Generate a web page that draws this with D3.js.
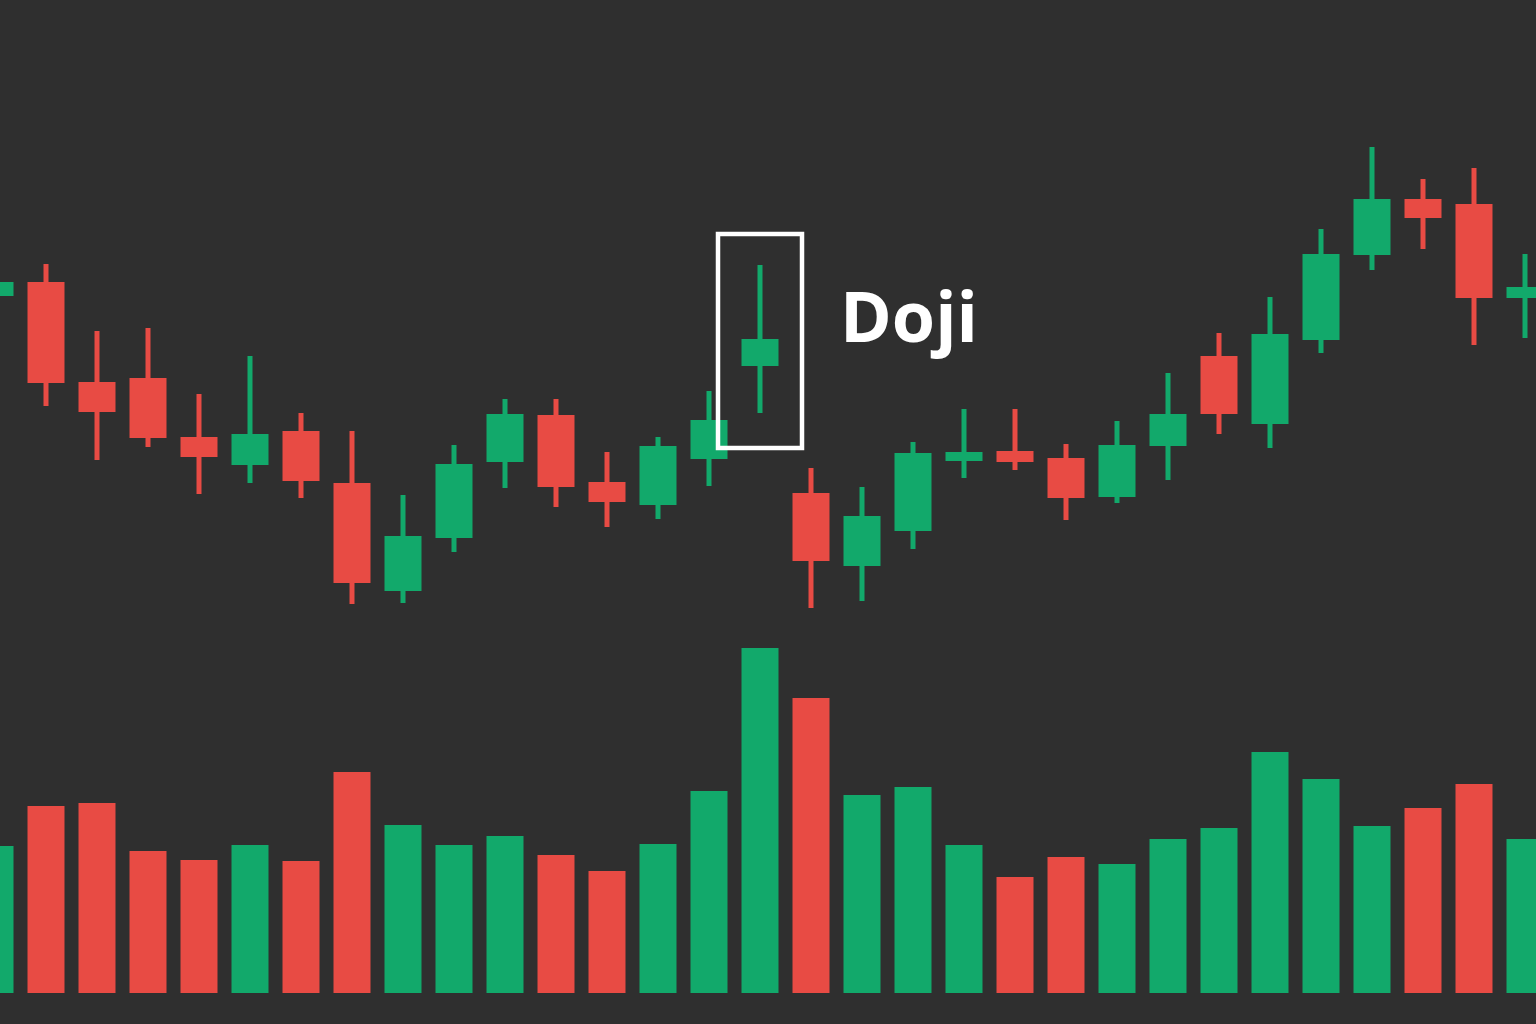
<!DOCTYPE html>
<html>
<head>
<meta charset="utf-8">
<script src="https://cdn.jsdelivr.net/npm/d3@7"></script>
<style>
  html, body { margin: 0; padding: 0; background: #2f2f2f; }
  svg { display: block; }
</style>
</head>
<body>
<svg id="chart" width="1536" height="1024"></svg>
<script>
// ---- Data ----
const opens  = [130.4,131.8,121.8,122.2,116.3,113.5,116.9,111.7,100.9,106.2,113.8,118.5,111.8,109.5,114.1,123.4,110.7,103.4,106.9,113.9,114.9,114.2,110.3,115.4,124.4,117.6,126.0,134.5,140.1,139.6,130.2];
const highs  = [132.8,133.6,126.9,127.2,120.6,124.4,118.7,116.9,110.5,115.5,120.1,120.1,114.8,116.3,120.9,133.5,113.2,111.3,115.8,119.1,119.1,115.6,117.9,122.7,126.7,130.3,137.1,145.3,142.1,143.2,134.6];
const lows   = [129.5,119.4,114.0,115.3,110.6,111.7,110.2, 99.6, 99.7,104.8,111.2,109.3,107.3,108.1,111.4,118.7, 99.2, 99.9,105.1,112.2,113.0,108.0,109.7,112.0,116.6,115.2,124.7,133.0,135.1,125.5,126.2];
const closes = [131.8,121.7,118.8,116.2,114.3,116.6,111.9,101.7,106.4,113.6,118.6,111.3,109.8,115.4,118.0,126.1,103.9,108.4,114.7,114.8,113.8,110.2,115.5,118.6,118.6,126.6,134.6,140.1,138.2,130.2,131.3];
const volumes = [147,187,190,142,133,148,132,221,168,148,157,138,122,149,202,345,295,198,206,148,116,136,129,154,165,241,214,167,185,209,154];
const volumeUp = [1,0,0,0,0,1,0,0,1,1,1,0,0,1,1,1,0,1,1,1,0,0,1,1,1,1,1,1,0,0,1];
const annotationIndex = 15;
const annotationLabel = "Doji";

// ---- Styles ----
const GREEN = "#12a96b";
const RED = "#e84b44";
const BG = "#2f2f2f";

const candles = opens.map((o, i) => ({ i, o, h: highs[i], l: lows[i], c: closes[i], v: volumes[i], vUp: volumeUp[i] === 1 }));

const svg = d3.select("#chart");
svg.append("rect").attr("width", 1536).attr("height", 1024).attr("fill", BG);

const x = d3.scaleLinear().domain([0, candles.length - 1]).range([-5, 1525]);
const y = d3.scaleLinear().domain([100, 150]).range([600, 100]);
const yv = d3.scaleLinear().domain([0, 400]).range([993, 593]);

const bodyW = 37, wickW = 5;

// Volume bars
svg.append("g").selectAll("rect").data(candles).join("rect")
  .attr("x", d => x(d.i) - bodyW / 2)
  .attr("y", d => yv(d.v))
  .attr("width", bodyW)
  .attr("height", d => yv(0) - yv(d.v))
  .attr("fill", d => d.vUp ? GREEN : RED);

// Candles
const g = svg.append("g");
const cg = g.selectAll("g").data(candles).join("g")
  .attr("fill", d => d.c >= d.o ? GREEN : RED);
cg.append("rect")
  .attr("x", d => x(d.i) - wickW / 2)
  .attr("y", d => y(d.h))
  .attr("width", wickW)
  .attr("height", d => y(d.l) - y(d.h));
cg.append("rect")
  .attr("x", d => x(d.i) - bodyW / 2)
  .attr("y", d => y(Math.max(d.o, d.c)))
  .attr("width", bodyW)
  .attr("height", d => Math.max(1, Math.abs(y(d.o) - y(d.c))));

// Doji annotation
const dj = candles[annotationIndex];
const bx0 = x(dj.i) - 42, bx1 = x(dj.i) + 42;
const by0 = y(dj.h) - 31, by1 = y(dj.l) + 35;
svg.append("rect")
  .attr("x", bx0).attr("y", by0)
  .attr("width", bx1 - bx0).attr("height", by1 - by0)
  .attr("fill", "none").attr("stroke", "#ffffff").attr("stroke-width", 4.5);
svg.append("text")
  .attr("x", bx1 + 38)
  .attr("y", by0 + 108)
  .attr("fill", "#ffffff")
  .attr("font-family", "'Open Sans', 'Noto Sans', sans-serif")
  .attr("font-weight", 700)
  .attr("font-size", 70)
  .text(annotationLabel);
</script>
</body>
</html>
